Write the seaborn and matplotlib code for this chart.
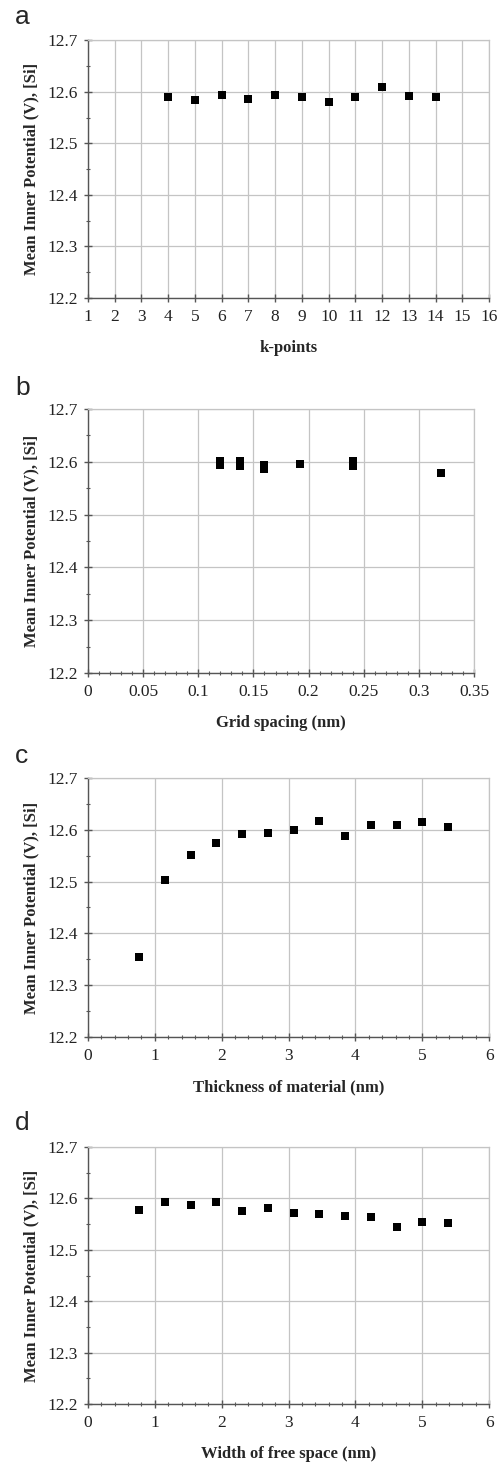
import matplotlib
matplotlib.use("Agg")
import matplotlib.pyplot as plt
import seaborn as sns
import pandas as pd
from matplotlib.ticker import MultipleLocator, FormatStrFormatter

# panel a: k-points
kpts = [4, 5, 6, 7, 8, 9, 10, 11, 12, 13, 14]
mip_kpts = [12.590, 12.584, 12.594, 12.585, 12.593, 12.589, 12.581, 12.589, 12.609, 12.592, 12.589]

# panel b: grid spacing (pairs of nearly overlapping points)
grid = [0.120, 0.120, 0.1375, 0.1375, 0.160, 0.160, 0.192, 0.240, 0.240, 0.320]
mip_grid = [12.6025, 12.594, 12.601, 12.592, 12.594, 12.587, 12.595, 12.602, 12.592, 12.578]
grid_ticks = ["0", "0.05", "0.1", "0.15", "0.2", "0.25", "0.3", "0.35"]

# panel c: thickness of material
thick = [0.77, 1.15, 1.54, 1.92, 2.31, 2.69, 3.08, 3.46, 3.85, 4.23, 4.62, 5.00, 5.38]
mip_thick = [12.355, 12.503, 12.552, 12.575, 12.592, 12.594, 12.599, 12.617, 12.588,
             12.610, 12.610, 12.615, 12.605]

# panel d: width of free space
free = [0.77, 1.15, 1.54, 1.92, 2.31, 2.69, 3.08, 3.46, 3.85, 4.23, 4.62, 5.00, 5.38]
mip_free = [12.578, 12.594, 12.588, 12.594, 12.575, 12.581, 12.572, 12.570, 12.566,
            12.5645, 12.544, 12.555, 12.552]

sns.set_theme(style="white")
plt.rcParams['font.family'] = ['Liberation Serif', 'DejaVu Serif']

fig = plt.figure(figsize=(5.02, 14.64), dpi=100)

panels = [
    ("a", kpts, mip_kpts, "k-points", (1, 16), 1, None, [0.1753, 0.7964, 0.799, 0.1762], 24),
    ("b", grid, mip_grid, "Grid spacing (nm)", (0, 0.35), 0.05, 0.01, [0.1753, 0.5403, 0.769, 0.1803], 395),
    ("c", thick, mip_thick, "Thickness of material (nm)", (0, 6), 1, 0.2, [0.1753, 0.2917, 0.799, 0.1769], 763),
    ("d", free, mip_free, "Width of free space (nm)", (0, 6), 1, 0.2, [0.1753, 0.041, 0.799, 0.1755], 1130),
]

for letter, x, y, xlabel, xlim, xmaj, xmin, rect, ybase in panels:
    ax = fig.add_axes(rect)
    df = pd.DataFrame({"x": x, "y": y})
    sns.scatterplot(data=df, x="x", y="y", ax=ax, marker="s", s=28,
                    color="black", linewidth=0, zorder=3)
    ax.set_xlim(*xlim)
    ax.set_ylim(12.2, 12.7)
    ax.xaxis.set_major_locator(MultipleLocator(xmaj))
    if xmin:
        ax.xaxis.set_minor_locator(MultipleLocator(xmin))
    ax.yaxis.set_major_locator(MultipleLocator(0.1))
    ax.yaxis.set_minor_locator(MultipleLocator(0.05))
    if letter == "b":
        ax.set_xticks([i * 0.05 for i in range(len(grid_ticks))])
        ax.set_xticklabels(grid_ticks)
    else:
        ax.xaxis.set_major_formatter(FormatStrFormatter("%d"))
    ax.yaxis.set_major_formatter(FormatStrFormatter("%.1f"))
    ax.grid(True, which="major", color="#c4c4c4", linewidth=0.9)
    ax.set_axisbelow(True)
    for side in ["top", "right"]:
        ax.spines[side].set_color("#c4c4c4")
        ax.spines[side].set_linewidth(0.9)
    for side in ["left", "bottom"]:
        ax.spines[side].set_color("#555555")
        ax.spines[side].set_linewidth(1.0)
    ax.tick_params(which="major", direction="inout", length=6, width=1.0,
                   color="#555555", labelsize=12.5, labelcolor="#222222", pad=4,
                   left=True, bottom=True)
    ax.tick_params(which="minor", direction="inout", length=3, width=0.8,
                   color="#555555", left=True, bottom=True)
    ax.tick_params(axis="x", pad=5)
    ax.set_xlabel(xlabel, fontsize=12, fontweight="bold", labelpad=11)
    ax.set_ylabel("Mean Inner Potential (V), [Si]", fontsize=12,
                  fontweight="bold", labelpad=6)
    fig.text(15 / 502, 1 - ybase / 1464, letter, fontsize=19,
             family="Liberation Sans", va="baseline", ha="left")

fig.savefig("out.png", dpi=100)
